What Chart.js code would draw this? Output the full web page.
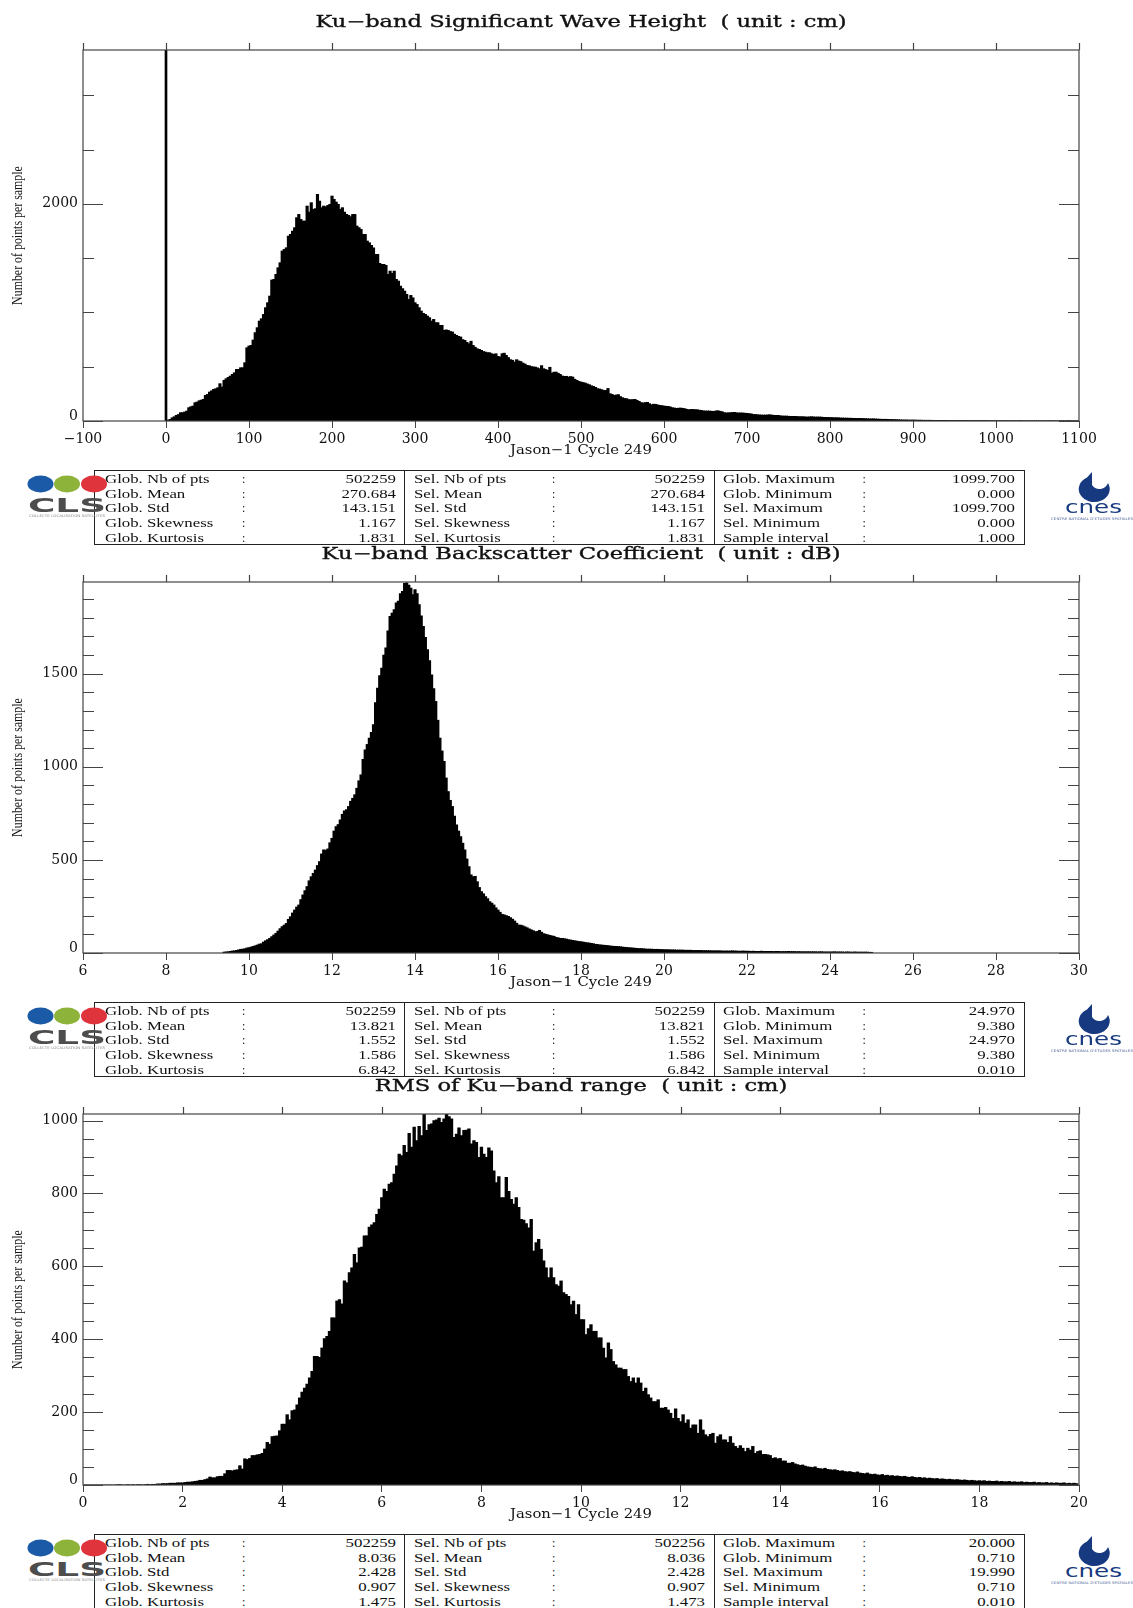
<!DOCTYPE html>
<html>
<head>
<meta charset="utf-8">
<title>Jason-1 Cycle 249 histograms</title>
<script src="https://cdn.jsdelivr.net/npm/chart.js@4"></script>
<style>
  html, body { margin: 0; padding: 0; background: #fff; }
  #page { position: relative; width: 1133px; height: 1608px; overflow: hidden; background: #fff; }
  canvas { position: absolute; left: 0; }
  .stats { position: absolute; left: 94px; width: 929px; height: 73px; border: 1.5px solid #222; }
  .stats i { position: absolute; top: 0; bottom: 0; width: 1.5px; background: #222; }
  .stats span { position: absolute; font: 12px/14px "Liberation Serif", serif; color: #111; white-space: nowrap; }
  .stats .lab { transform: scaleX(1.4); transform-origin: left center; }
  .stats .val { transform: scaleX(1.4); transform-origin: right center; text-align: right; }
  .logo { position: absolute; left: 0; width: 1133px; height: 80px; pointer-events: none; }
</style>
</head>
<body>
<div id="page">
  <canvas id="swhChart" width="1133" height="460" style="top:0"></canvas>
  <canvas id="sigmaChart" width="1133" height="460" style="top:532px"></canvas>
  <canvas id="rmsChart" width="1133" height="460" style="top:1064px"></canvas>
</div>
<script>
// Wave height histogram: bins every 2.5 cm starting at 2.5 cm
const swhBinStart = 2.5;
const swhBinWidth = 2.5;
const swhZeroSpike = 3600;
const swhCounts = [
  9,15,30,40,52,60,77,77,83,92,123,132,138,169,175,187,193,200,236,245,
  267,279,292,298,307,344,313,375,390,402,414,430,445,476,476,491,491,537,675,691,
  697,746,814,860,921,942,982,1044,1090,1151,1299,1305,1351,1412,1458,1566,1581,1596,1704,1719,
  1750,1781,1873,1903,1857,1842,1842,1980,1925,2011,1950,1956,2088,2026,1965,1980,1974,1986,1996,2072,
  2042,2017,1996,1950,1965,1925,1903,1894,1882,1903,1903,1796,1781,1765,1719,1719,1658,1642,1618,1596,
  1535,1535,1452,1443,1443,1434,1351,1381,1360,1381,1305,1289,1243,1219,1197,1167,1120,1157,1135,1090,
  1074,1044,1013,992,982,967,952,921,936,906,906,881,881,835,840,835,825,820,800,789,
  780,774,750,743,725,712,735,697,680,666,660,651,640,635,630,629,620,614,620,596,
  590,620,625,605,585,565,560,543,565,553,548,534,525,513,510,503,498,497,490,482,
  510,482,475,467,495,442,450,451,440,430,415,411,412,405,410,405,385,375,365,359,
  355,350,342,335,325,319,310,298,295,289,282,282,300,252,245,236,240,243,225,215,
  208,206,198,196,198,200,190,181,170,166,170,172,160,150,155,154,148,144,142,138,
  136,135,130,123,120,117,118,120,117,114,108,104,107,107,105,104,100,98,94,92,
  93,92,90,89,93,95,90,86,78,74,76,77,79,80,76,74,75,74,72,71,
  68,66,61,60,58,57,55,55,55,56,58,55,52,52,52,49,46,46,46,44,
  43,43,43,42,40,40,40,38,37,38,40,38,37,37,37,36,34,34,33,32,
  32,30,31,30,28,28,27,27,26,26,25,25,24,24,24,23,22,21,20,20,
  20,19,18,17,16,16,16,15,14,14,13,13,12,11,10,10,10,9,9,9,
  9,8,8,8,7,7,7,7,7,6,6,6,6,6,6,6,5,5,5,5,
  5,5,5,5,5,4,4,4,4,4,4,4,4,4,4,4,3,3,3,3,
  3,3,3,3,3,3,3,3,2,2,3,3,2,2,2,2,2,2,2,2,2,2,
  2,2,2,3,2,2,2,2,2,2,2,2,3,2,2,2,2,2
];

// Backscatter histogram: bins every 0.05 dB starting at 9.40 dB
const sigmaBinStart = 9.4;
const sigmaBinWidth = 0.05;
const sigmaCounts = [
  5,6,7,9,11,12,14,17,20,21,23,27,29,32,36,39,43,48,50,59,
  66,72,79,88,97,106,118,131,142,150,159,181,195,215,231,247,258,287,312,335,
  357,388,410,428,446,470,491,532,554,552,559,592,616,655,679,690,715,745,763,770,
  787,815,831,850,885,925,957,1040,1091,1120,1154,1185,1226,1345,1423,1490,1530,1600,1638,1730,
  1808,1825,1844,1880,1889,1930,1942,1985,1987,1975,1960,1925,1951,1930,1871,1810,1754,1695,1629,1570,
  1494,1420,1351,1250,1154,1085,1029,940,867,820,787,735,688,655,625,590,554,505,464,420,
  410,412,383,352,330,318,303,292,276,268,258,243,231,219,208,205,201,197,190,182,
  172,160,150,
  150,146,141,136,130,125,120,115,116,122,112,104,101,98,95,92,90,84,82,79,
  79,77,75,72,70,68,66,64,62,61,59,57,55,54,52,50,47,46,44,43,
  42,41,40,38,37,36,36,35,34,32,31,30,29,28,27,26,25,24,24,23,
  22,21,21,21,20,20,20,19,19,18,
  18,18,17,17,17,16,16,16,16,15,15,15,15,14,14,14,14,14,13,13,
  13,13,12,12,12,12,12,11,11,11,11,11,12,11,11,10,10,11,10,10,
  10,9,10,9,9,9,10,9,9,9,9,9,8,9,9,8,8,8,8,9,
  8,8,8,7,8,7,7,7,7,7,7,7,7,6,7,7,6,6,6,6,
  6,7,6,6,6,6,5,6,6,5,5,6,5,5,5,5,5,5,4,4
];

// RMS histogram: bins every 0.05 cm starting at 0
const rmsBinStart = 0;
const rmsBinWidth = 0.05;
const rmsCounts = [
  0,0,0,0,0,0,0,0,0,0,0,0,0,0,1,1,0,0,1,0,1,0,1,1,0,1,2,1,2,2,3,3,4,4,4,5,5,5,6,6,
  6,7,8,8,9,10,11,13,13,15,17,22,20,20,23,24,24,31,40,40,
  39,41,42,53,44,72,70,73,81,81,83,84,87,99,117,112,133,134,135,149,
  167,167,193,179,204,206,220,239,255,266,277,294,312,353,353,350,376,402,408,422,
  459,459,505,509,497,560,555,583,596,633,610,651,653,684,684,708,714,720,743,757,
  789,812,806,826,830,853,876,908,904,932,913,965,927,982,945,984,959,1017,973,989,
  991,1000,1002,1007,995,1005,1018,1011,1005,954,963,980,959,973,974,977,936,945,940,899,
  927,908,899,925,917,862,830,846,789,789,844,806,784,771,789,762,729,727,717,706,
  729,642,665,674,647,615,596,569,596,569,550,546,560,528,523,518,495,505,468,495,
  454,454,413,429,440,422,422,404,404,376,349,390,372,339,330,321,321,317,317,298,
  284,294,280,294,280,257,266,248,239,229,229,234,211,211,213,206,197,183,209,183,
  174,193,170,179,156,165,165,142,179,151,138,133,139,142,115,133,138,124,124,117,
  133,115,106,101,108,101,92,101,96,106,87,92,94,84,84,83,81,73,75,72,
  73,66,66,60,
  60,62,58,56,54,55,52,50,49,48,50,46,45,44,46,43,42,41,42,40,
  38,39,37,36,37,35,34,36,33,32,31,33,30,29,30,28,27,29,26,27,
  25,26,24,25,24,23,24,22,21,23,21,20,21,19,20,18,19,18,17,18,
  16,17,16,15,16,15,14,15,14,13,14,13,12,13,12,11,12,11,12,10,
  11,10,10,11,9,10,9,9,10,8,9,8,8,9,7,8,7,7,8,6,
  7,6,6,7,5,6,5,6,5,5,6,4,5,4,5,4
];

// Statistics boxes
const statLabels1 = ['Glob. Nb of pts','Glob. Mean','Glob. Std','Glob. Skewness','Glob. Kurtosis'];
const statLabels2 = ['Sel. Nb of pts','Sel. Mean','Sel. Std','Sel. Skewness','Sel. Kurtosis'];
const statLabels3 = ['Glob. Maximum','Glob. Minimum','Sel. Maximum','Sel. Minimum','Sample interval'];

const swhStats1 = ['502259','270.684','143.151','1.167','1.831'];
const swhStats2 = ['502259','270.684','143.151','1.167','1.831'];
const swhStats3 = ['1099.700','0.000','1099.700','0.000','1.000'];
const sigmaStats1 = ['502259','13.821','1.552','1.586','6.842'];
const sigmaStats2 = ['502259','13.821','1.552','1.586','6.842'];
const sigmaStats3 = ['24.970','9.380','24.970','9.380','0.010'];
const rmsStats1 = ['502259','8.036','2.428','0.907','1.475'];
const rmsStats2 = ['502256','8.036','2.428','0.907','1.473'];
const rmsStats3 = ['20.000','0.710','19.990','0.710','0.010'];

const SERIF_WIDE = '"DejaVu Serif", serif';
const SERIF = '"Liberation Serif", serif';
const AXIS_COLOR = '#444';
const TEXT_COLOR = '#111';
const CYCLE_LABEL = 'Jason\u22121 Cycle 249';
const Y_LABEL = 'Number of points per sample';

// The original text is stretched, which the native title options can't do
function stretchedText(ctx, text, x, y, font, sx, angle, heavy) {
  ctx.save();
  ctx.translate(x, y);
  if (angle) ctx.rotate(angle);
  ctx.scale(sx, 1);
  ctx.font = font;
  ctx.fillStyle = TEXT_COLOR;
  ctx.strokeStyle = TEXT_COLOR;
  ctx.textAlign = 'center';
  ctx.textBaseline = 'middle';
  ctx.fillText(text, 0, 0);
  if (heavy) {
    ctx.lineWidth = 0.35;
    ctx.strokeText(text, 0, 0);
  }
  ctx.restore();
}

// Frame, inward y ticks on both sides, outward x ticks on top, and the panel texts
const frameTicks = {
  id: 'frameTicks',
  afterDraw(chart, args, opts) {
    const { ctx, chartArea: a, scales } = chart;
    ctx.save();
    ctx.strokeStyle = AXIS_COLOR;
    ctx.lineWidth = 1.2;
    ctx.strokeRect(a.left, a.top, a.right - a.left, a.bottom - a.top);
    ctx.beginPath();
    scales.y.ticks.forEach(t => {
      const y = Math.round(scales.y.getPixelForValue(t.value)) + 0.5;
      const len = t.value % opts.yMajor === 0 ? 20 : 11;
      ctx.moveTo(a.left, y); ctx.lineTo(a.left + len, y);
      ctx.moveTo(a.right, y); ctx.lineTo(a.right - len, y);
    });
    scales.x.ticks.forEach(t => {
      const x = Math.round(scales.x.getPixelForValue(t.value)) + 0.5;
      ctx.moveTo(x, a.top); ctx.lineTo(x, a.top - 7);
    });
    ctx.stroke();
    ctx.restore();

    const midX = (a.left + a.right) / 2;
    stretchedText(ctx, opts.title, midX, 22.5, '16px ' + SERIF_WIDE, 1.41, 0, true);
    stretchedText(ctx, CYCLE_LABEL, midX, 450.5, '13px ' + SERIF_WIDE, 1.14);
    stretchedText(ctx, Y_LABEL, 18.5, (a.top + a.bottom) / 2, '14px ' + SERIF, 0.85, -Math.PI / 2);
  }
};

function binPoints(counts, start, width) {
  return counts.map((y, i) => ({ x: start + i * width, y }));
}

function drawHistogram(id, cfg) {
  const datasets = [{
    data: binPoints(cfg.counts, cfg.binStart, cfg.binWidth),
    backgroundColor: '#000',
    borderWidth: 0,
    barThickness: cfg.barPx,
    grouped: false
  }];
  if (cfg.spike) {
    datasets.push({
      data: [cfg.spike],
      backgroundColor: '#000',
      borderWidth: 0,
      barThickness: 2,
      grouped: false
    });
  }
  return new Chart(document.getElementById(id), {
    type: 'bar',
    data: { datasets },
    plugins: [frameTicks],
    options: {
      responsive: false,
      animation: false,
      layout: { padding: { top: 50, right: 54 } },
      scales: {
        x: {
          type: 'linear',
          offset: false,
          min: cfg.xMin, max: cfg.xMax,
          afterFit: s => { s.height = 39; },
          grid: { offset: false, drawOnChartArea: false, tickLength: 7, color: AXIS_COLOR },
          border: { display: false },
          ticks: {
            stepSize: cfg.xStep,
            autoSkip: false,
            maxRotation: 0,
            includeBounds: false,
            padding: 3,
            color: TEXT_COLOR,
            font: { family: SERIF_WIDE, size: 14 },
            callback: v => String(v).replace('-', '\u2212')
          }
        },
        y: {
          min: 0, max: cfg.yMax,
          afterFit: s => { s.width = 83; },
          // Chart.js stretches the step to fit max, so the ticks are listed by hand here
          afterBuildTicks: s => {
            const list = [];
            for (let v = 0; v <= cfg.yMax; v += cfg.yStep) list.push({ value: v });
            s.ticks = list;
          },
          grid: { display: false, drawTicks: false },
          border: { display: false },
          ticks: {
            autoSkip: false,
            padding: 5,
            color: TEXT_COLOR,
            // the 0 label sits a few px above the axis: an empty second line pushes it up
            font: { family: SERIF_WIDE, size: 14, lineHeight: 0.6 },
            callback: v => v === 0 ? ['0', ''] : (v % cfg.yMajor === 0 ? String(v) : '')
          }
        }
      },
      plugins: {
        legend: { display: false },
        tooltip: { enabled: false },
        frameTicks: { yMajor: cfg.yMajor, title: cfg.title }
      }
    }
  });
}

drawHistogram('swhChart', {
  title: 'Ku\u2212band Significant Wave Height  ( unit : cm)',
  counts: swhCounts, binStart: swhBinStart, binWidth: swhBinWidth, barPx: 2.5,
  spike: { x: 0, y: swhZeroSpike },
  xMin: -100, xMax: 1100, xStep: 100,
  yMax: 3417, yStep: 500, yMajor: 2000
});

drawHistogram('sigmaChart', {
  title: 'Ku\u2212band Backscatter Coefficient  ( unit : dB)',
  counts: sigmaCounts, binStart: sigmaBinStart, binWidth: sigmaBinWidth, barPx: 2.5,
  xMin: 6, xMax: 30, xStep: 2,
  yMax: 1992, yStep: 100, yMajor: 500
});

drawHistogram('rmsChart', {
  title: 'RMS of Ku\u2212band range  ( unit : cm)',
  counts: rmsCounts, binStart: rmsBinStart, binWidth: rmsBinWidth, barPx: 2.7,
  xMin: 0, xMax: 20, xStep: 2,
  yMax: 1018, yStep: 50, yMajor: 200
});

// Statistics box under a panel
function addStats(top, col1, col2, col3) {
  const box = document.createElement('div');
  box.className = 'stats';
  box.style.top = top + 'px';
  let html = '<i style="left:308.5px"></i><i style="left:618.5px"></i>';
  const cols = [
    { labels: statLabels1, vals: col1, lab: 9.5, colon: 147, val: 301 },
    { labels: statLabels2, vals: col2, lab: 318.5, colon: 457, val: 609.5 },
    { labels: statLabels3, vals: col3, lab: 628, colon: 767.5, val: 920 }
  ];
  cols.forEach(c => {
    c.labels.forEach((lab, i) => {
      const y = 1 + i * 14.7;
      html += `<span class="lab" style="left:${c.lab}px;top:${y}px">${lab}</span>`;
      html += `<span style="left:${c.colon}px;top:${y}px">:</span>`;
      html += `<span class="val" style="right:${929 - c.val}px;top:${y}px">${c.vals[i]}</span>`;
    });
  });
  box.innerHTML = html;
  document.getElementById('page').appendChild(box);
}

// CLS and CNES logos, drawn on top of the box corner like in the original
function addLogos(top) {
  const logo = document.createElementNS('http://www.w3.org/2000/svg', 'svg');
  logo.setAttribute('class', 'logo');
  logo.setAttribute('viewBox', '0 0 1133 80');
  logo.style.top = top + 'px';
  logo.innerHTML = `
    <rect x="95.5" y="1.5" width="9.5" height="46" fill="#fff"/>
    <ellipse cx="40.5" cy="14" rx="13" ry="8.5" fill="#1b5aa6"/>
    <ellipse cx="67" cy="14" rx="13" ry="8.5" fill="#8db33a"/>
    <ellipse cx="94" cy="14" rx="13" ry="8.5" fill="#e0343d"/>
    <text x="28" y="42" textLength="78" lengthAdjust="spacingAndGlyphs" font-family="DejaVu Sans" font-weight="bold" font-size="20" fill="#4d4d4d">CLS</text>
    <text x="29" y="47" textLength="76" lengthAdjust="spacingAndGlyphs" font-family="DejaVu Sans" font-size="3.5" fill="#888">COLLECTE LOCALISATION SATELLITES</text>
    <path d="M1092 2 L1092 15 A9 9 0 0 0 1108 13 A15.5 13 0 1 1 1087 7.5 Z" fill="#17397f"/>
    <text x="1065" y="43" textLength="57" lengthAdjust="spacingAndGlyphs" font-family="DejaVu Sans" font-size="18" fill="#17397f">cnes</text>
    <text x="1051" y="50" textLength="82" lengthAdjust="spacingAndGlyphs" font-family="DejaVu Sans" font-size="3.5" fill="#4a5f96">CENTRE NATIONAL D'ETUDES SPATIALES</text>`;
  document.getElementById('page').appendChild(logo);
}

addStats(470, swhStats1, swhStats2, swhStats3);
addStats(1002, sigmaStats1, sigmaStats2, sigmaStats3);
addStats(1534, rmsStats1, rmsStats2, rmsStats3);
addLogos(470);
addLogos(1002);
addLogos(1534);
</script>
</body>
</html>
